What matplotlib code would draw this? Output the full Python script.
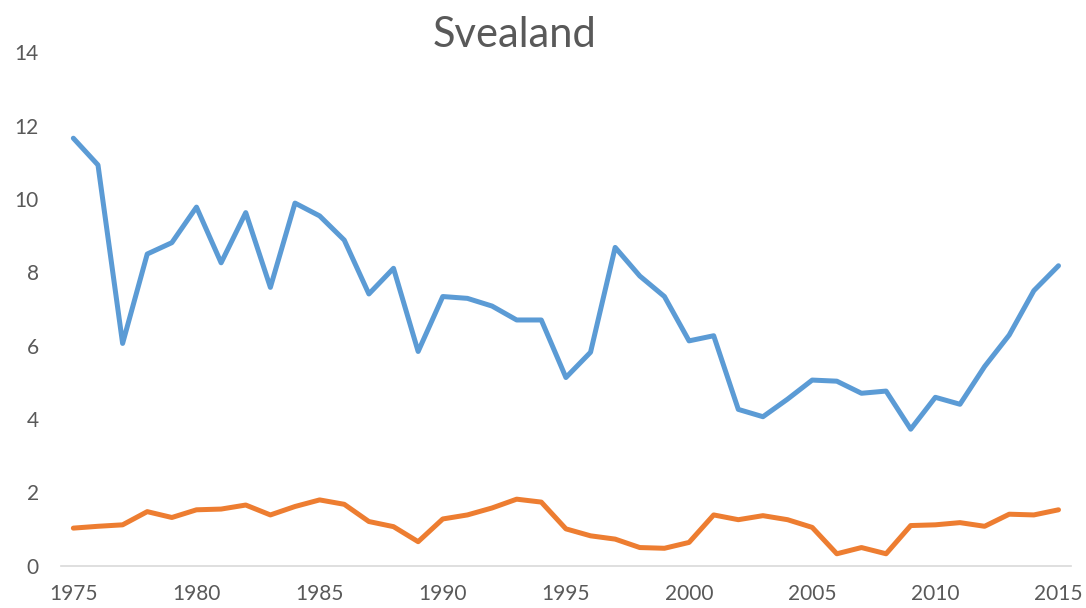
import numpy as np
import matplotlib.pyplot as plt

years = np.arange(1975, 2016)

blue = [11.66, 10.93, 6.06, 8.50, 8.81, 9.78, 8.26, 9.63, 7.59, 9.89,
        9.54, 8.88, 7.41, 8.11, 5.84, 7.34, 7.29, 7.08, 6.70, 6.70,
        5.13, 5.82, 8.68, 7.90, 7.34, 6.13, 6.27, 4.26, 4.06, 4.54,
        5.06, 5.03, 4.70, 4.76, 3.72, 4.59, 4.40, 5.43, 6.29, 7.50,
        8.18]

orange = [1.02, 1.07, 1.11, 1.47, 1.31, 1.52, 1.54, 1.65, 1.38, 1.61,
          1.79, 1.67, 1.20, 1.06, 0.65, 1.27, 1.38, 1.57, 1.81, 1.73,
          1.00, 0.81, 0.72, 0.49, 0.47, 0.63, 1.38, 1.25, 1.36, 1.25,
          1.04, 0.32, 0.49, 0.32, 1.09, 1.11, 1.17, 1.07, 1.40, 1.38,
          1.52]

xticks = [1975, 1980, 1985, 1990, 1995, 2000, 2005, 2010, 2015]
yticks = [0, 2, 4, 6, 8, 10, 12, 14]

plt.rcParams['font.family'] = ['Lato', 'DejaVu Sans']
grey = '#595959'

fig = plt.figure(figsize=(10.86, 6.08), dpi=100)
ax = fig.add_axes([0.0562, 0.0699, 0.9298, 0.8438])

ax.plot(years, blue, color='#5B9BD5', lw=3.6,
        solid_capstyle='round', solid_joinstyle='round')
ax.plot(years, orange, color='#ED7D31', lw=3.6,
        solid_capstyle='round', solid_joinstyle='round')

ax.set_xlim(1974.5, 2015.5)
ax.set_ylim(0, 14)
ax.set_xticks(xticks)
ax.set_yticks(yticks)
ax.tick_params(length=0, labelsize=15, labelcolor=grey)
ax.tick_params(axis='x', pad=13)
ax.tick_params(axis='y', pad=16)

for s in ['top', 'right', 'left']:
    ax.spines[s].set_visible(False)
ax.spines['bottom'].set_color('#d9d9d9')
ax.spines['bottom'].set_linewidth(1.2)

fig.text(0.474, 0.942, 'Svealand', ha='center', va='center',
         fontsize=30, color=grey)

plt.savefig('out.png', dpi=100, facecolor='w')
